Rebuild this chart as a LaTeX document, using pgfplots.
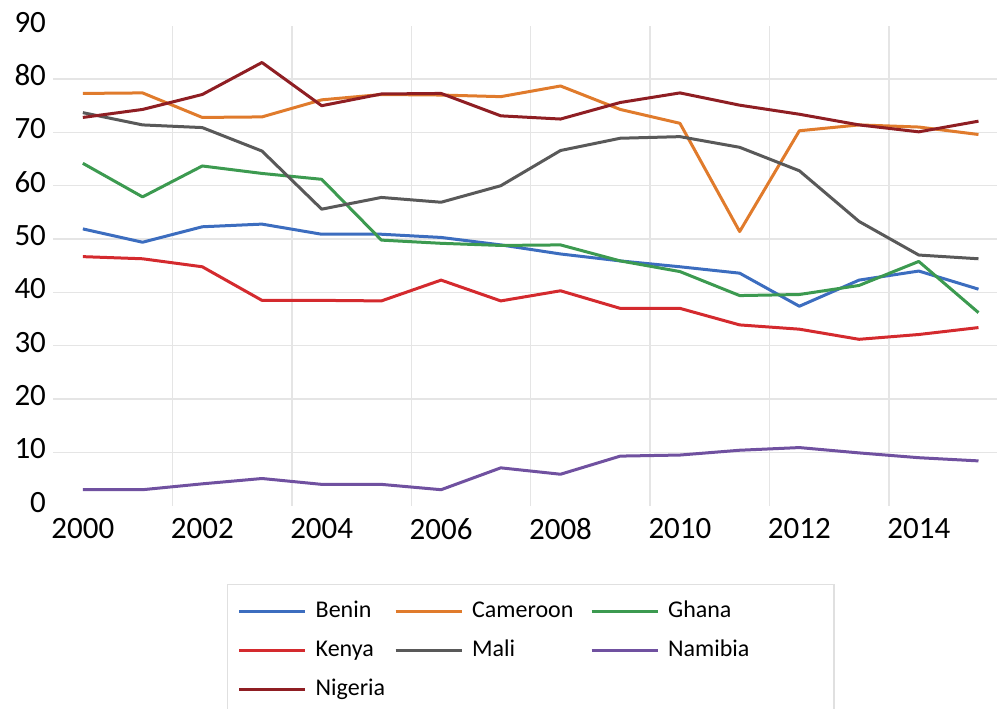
\documentclass[border=0pt]{standalone}
\usepackage{pgfplots}
\usepackage{pgfplotstable}
\pgfplotsset{compat=1.18}
\usepackage{fontspec}
\setmainfont{Carlito}
\definecolor{cBenin}{HTML}{3C6DBF}
\definecolor{cCameroon}{HTML}{E07B2C}
\definecolor{cGhana}{HTML}{3C9A50}
\definecolor{cKenya}{HTML}{D42A2E}
\definecolor{cMali}{HTML}{595959}
\definecolor{cNamibia}{HTML}{7051A0}
\definecolor{cNigeria}{HTML}{8F1E23}
\pgfplotstableread{
year Benin Cameroon Ghana Kenya Mali Namibia Nigeria
2000 51.9 77.3 64.2 46.7 73.7 3.0 72.8
2001 49.4 77.4 57.9 46.3 71.4 3.0 74.3
2002 52.3 72.8 63.7 44.8 70.9 4.1 77.1
2003 52.8 72.9 62.3 38.5 66.5 5.1 83.1
2004 50.9 76.1 61.2 38.5 55.6 4.0 75.0
2005 50.9 77.1 49.8 38.4 57.8 4.0 77.2
2006 50.3 77.0 49.2 42.3 56.9 3.0 77.3
2007 48.9 76.7 48.8 38.4 60.0 7.1 73.1
2008 47.2 78.7 48.9 40.3 66.6 5.9 72.5
2009 45.9 74.3 45.9 37.0 68.9 9.3 75.6
2010 44.8 71.7 43.9 37.0 69.2 9.5 77.4
2011 43.6 51.4 39.4 33.9 67.2 10.4 75.1
2012 37.4 70.3 39.6 33.1 62.8 10.9 73.4
2013 42.3 71.4 41.3 31.2 53.3 9.9 71.4
2014 44.0 71.0 45.8 32.1 47.0 9.0 70.1
2015 40.6 69.6 36.2 33.4 46.3 8.4 72.1
}\datatable
\begin{document}
\begin{tikzpicture}
\begin{axis}[
  scale only axis, width=472pt, height=240pt,
  xmin=1999.5, xmax=2015.31, ymin=0, ymax=90,
  axis line style={draw=none},
  major tick length=0pt, minor tick length=0pt,
  xtick={2000,2002,...,2014},
  minor xtick={2001.5,2003.5,...,2013.5},
  xminorgrids=true,
  ytick={10,20,...,80},
  extra y ticks={0,90},
  extra y tick style={grid=none},
  ymajorgrids=true,
  grid style={draw=black!10, line width=0.75pt},
  minor grid style={draw=black!10, line width=0.75pt},
  /pgf/number format/1000 sep={},
  /pgf/number format/assume math mode=true,
  ticklabel style={font=\fontsize{15.5}{18}\selectfont},
  yticklabel style={yshift=1.8pt},
  xticklabel style={yshift=-2.75pt},
  legend columns=3,
  legend cell align=left,
  legend image code/.code={\draw[#1] (0pt,0pt) -- (33pt,0pt);},
  legend style={at={(axis description cs:0.1843,-0.1631)}, anchor=north west,
    draw=black!12, line width=0.75pt, inner xsep=5pt, inner ysep=5.7pt,
    font=\fontsize{12}{14}\selectfont,
    nodes={inner sep=2pt, text height=8.5pt, text depth=2.5pt},
    row sep=4.5pt,
    /tikz/every even column/.append style={column sep=2.5pt},
    /tikz/every odd column/.append style={column sep=2.5pt}},
  every axis plot/.append style={line width=1.5pt, line join=round},
]
\addplot[cBenin] table[x=year,y=Benin] {\datatable};
\addlegendentry{Benin}
\addplot[cCameroon] table[x=year,y=Cameroon] {\datatable};
\addlegendentry{\makebox[54.5pt][l]{Cameroon}}
\addplot[cGhana] table[x=year,y=Ghana] {\datatable};
\addlegendentry{\makebox[76pt][l]{Ghana}}
\addplot[cKenya] table[x=year,y=Kenya] {\datatable};
\addlegendentry{Kenya}
\addplot[cMali] table[x=year,y=Mali] {\datatable};
\addlegendentry{Mali}
\addplot[cNamibia] table[x=year,y=Namibia] {\datatable};
\addlegendentry{Namibia}
\addplot[cNigeria] table[x=year,y=Nigeria] {\datatable};
\addlegendentry{Nigeria}
\end{axis}
\pgfresetboundingbox
\useasboundingbox (-26.5pt,-101.15pt) rectangle (472pt,252.85pt);
\end{tikzpicture}
\end{document}
